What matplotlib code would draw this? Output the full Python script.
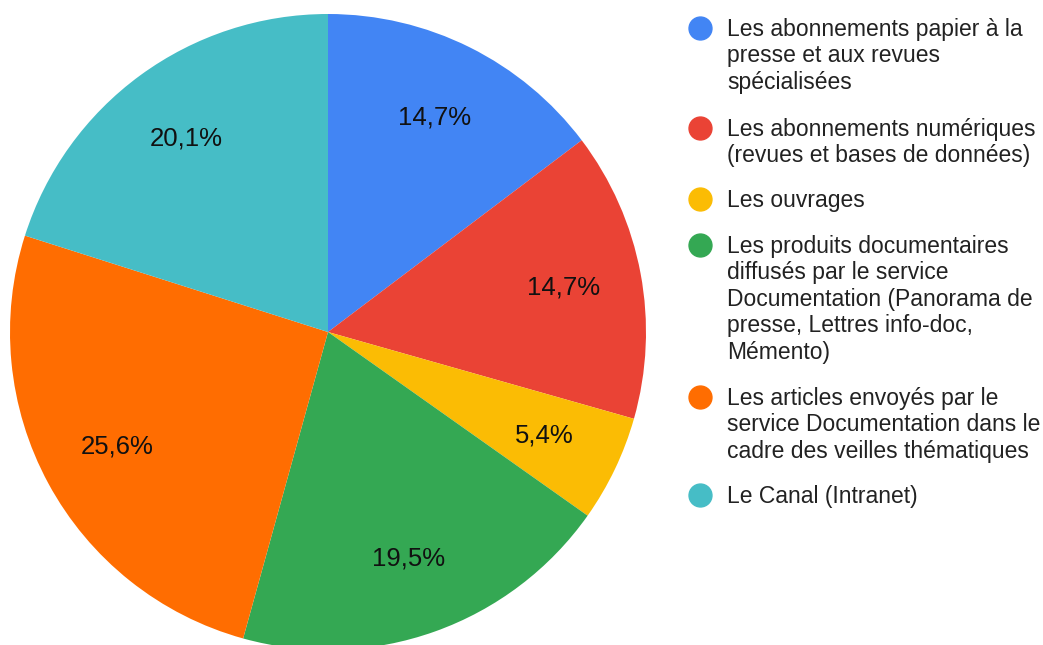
import matplotlib
matplotlib.use("Agg")
import matplotlib.pyplot as plt

plt.rcParams['font.family'] = ['Liberation Sans', 'DejaVu Sans']

# data
labels = [
    "Les abonnements papier à la\npresse et aux revues\nspécialisées",
    "Les abonnements numériques\n(revues et bases de données)",
    "Les ouvrages",
    "Les produits documentaires\ndiffusés par le service\nDocumentation (Panorama de\npresse, Lettres info-doc,\nMémento)",
    "Les articles envoyés par le\nservice Documentation dans le\ncadre des veilles thématiques",
    "Le Canal (Intranet)",
]
values = [14.7, 14.7, 5.4, 19.5, 25.6, 20.1]
colors = ["#4285F4", "#EA4335", "#FBBC04", "#34A853", "#FF6D01", "#46BDC6"]

W, H = 1043, 645
fig = plt.figure(figsize=(W / 100, H / 100), dpi=100)

# pie centre (328, 332) px, radius 318 px
cx, cy, r = 328, 332, 318
ax = fig.add_axes([(cx - r) / W, (H - cy - r) / H, 2 * r / W, 2 * r / H])
wedges, texts, autotexts = ax.pie(
    values, colors=colors, startangle=90, counterclock=False,
    autopct=lambda p: f"{p:.1f}%".replace(".", ","),
    pctdistance=0.755, radius=1,
    wedgeprops=dict(linewidth=0),
    textprops=dict(fontsize=18.5, color="#111111"),
)
ax.set_xlim(-1, 1)
ax.set_ylim(-1, 1)
ax.set_aspect("equal")
ax.axis("off")

# legend, drawn by hand (pixel rows of each entry's first line)
lx_dot, lx_text = 700, 727
legend_rows = [28, 128, 199, 245, 397, 495]
for lab, col, y in zip(labels, colors, legend_rows):
    fig.lines.append(plt.Line2D([lx_dot / W], [1 - y / H], marker="o",
                                markersize=16.5, color=col, linestyle="none",
                                transform=fig.transFigure))
    fig.text(lx_text / W, 1 - (y - 10) / H, lab, fontsize=16.5,
             color="#222222", va="top", ha="left", linespacing=1.19)

fig.savefig("out.png", dpi=100)
